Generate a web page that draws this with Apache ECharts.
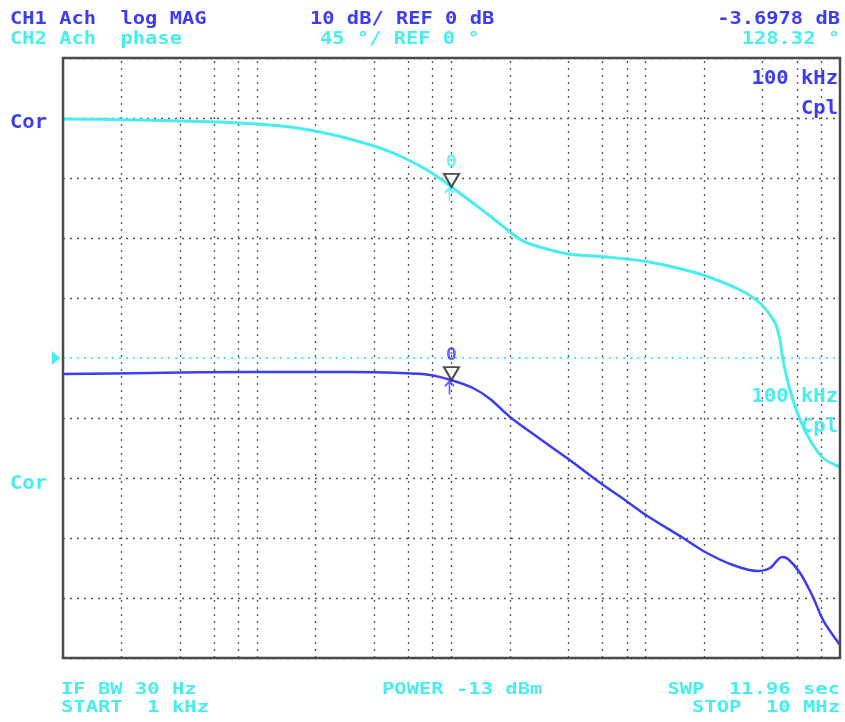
<!DOCTYPE html>
<html>
<head>
<meta charset="utf-8">
<title>Ach log MAG / phase</title>
<script src="https://cdn.jsdelivr.net/npm/echarts@6/dist/echarts.min.js"></script>
<style>
    html, body { margin: 0; padding: 0; background: #fff; }
    #main { width: 845px; height: 722px; }
</style>
</head>
<body>
<div id="main"></div>
<script>
// 数据
// CH2 相位曲线：频率(Hz) / 相位(°)
const phase_freq = [1000, 1550, 2490, 4000, 6430, 10000, 14750, 21040, 30000, 42850, 54300, 68800, 82200, 100000, 129000, 158000, 200000, 225000, 263000, 398000, 632000, 968000, 1380000, 1970000, 3060000, 3870000, 4630000, 4910000, 5090000, 5530000, 6230000, 7010000, 8180000, 10000000];
const phase_deg = [179.25, 179, 178.5, 177.75, 177, 175.5, 173.25, 169.5, 164.25, 157.5, 151.5, 144, 137.25, 128.32, 116.25, 106.5, 94.5, 89, 84.75, 78, 75.75, 72.75, 68.25, 62.25, 51, 41.25, 26.25, 13.5, -1.5, -24, -46.5, -61.5, -75, -81.75];
// CH1 幅度曲线：频率(Hz) / 幅度(dB)
const mag_freq = [1000, 2800, 9180, 30000, 54300, 77500, 100000, 129000, 158000, 200000, 286000, 398000, 582000, 800000, 1015000, 1556000, 2020000, 2810000, 3740000, 4360000, 5030000, 5400000, 6230000, 7260000, 8180000, 10000000];
const mag_db = [-2.67, -2.5, -2.33, -2.33, -2.5, -2.83, -3.6978, -5.0, -6.83, -9.83, -13.5, -16.8, -20.8, -23.9, -26.3, -30, -32.33, -34.5, -35.5, -35, -33.17, -33.5, -35.83, -39.83, -43.67, -47.83];
// 竖向网格所在频率（每十倍频程 2,4,6,8,10）
const grid_freq = [2e3, 4e3, 6e3, 8e3, 1e4, 2e4, 4e4, 6e4, 8e4, 1e5, 2e5, 4e5, 6e5, 8e5, 1e6, 2e6, 4e6, 6e6, 8e6];
// 标记 0
const marker_freq = 100000;
const marker_db = -3.6978;
const marker_deg = 128.32;

(function () {
    const my_echart = echarts.init(document.getElementById("main")); //实例化echarts对象
    const BLUE = "#3c3cf2";
    const CYAN = "#48eeee";
    const GRID_COLOR = "#555";
    const MONO = '"DejaVu Sans Mono", monospace';
    const plot = { left: 63, top: 58, width: 777, height: 600 }; //测量区域

    // 文字（屏幕字体较宽，用scaleX拉伸）
    function txt(text, x, y, color, align, size, sx) {
        return {
            type: "text",
            x: x,
            y: y,
            scaleX: sx,
            silent: true,
            z: 50,
            style: {
                text: text,
                fill: color,
                font: "bold " + size + "px " + MONO,
                textAlign: align,
                textVerticalAlign: "middle",
                align: align,
                verticalAlign: "middle"
            }
        };
    }

    const y_center = plot.top + plot.height / 2; //参考线位置
    const graphic = [
        txt("CH1 Ach  log MAG", 10, 20, BLUE, "left", 17, 1.2),
        txt("10 dB/ REF 0 dB", 310, 20, BLUE, "left", 17, 1.2),
        txt("-3.6978 dB", 840, 20, BLUE, "right", 17, 1.2),
        txt("CH2 Ach  phase", 10, 40, CYAN, "left", 17, 1.2),
        txt("45 °/ REF 0 °", 320, 40, CYAN, "left", 17, 1.2),
        txt("128.32 °", 840, 40, CYAN, "right", 17, 1.2),
        txt("IF BW 30 Hz", 61, 690, CYAN, "left", 16, 1.28),
        txt("START  1 kHz", 61, 708, CYAN, "left", 16, 1.28),
        txt("POWER -13 dBm", 382, 690, CYAN, "left", 16, 1.28),
        txt("SWP  11.96 sec", 840, 690, CYAN, "right", 16, 1.28),
        txt("STOP  10 MHz", 840, 708, CYAN, "right", 16, 1.28),
        txt("Cor", 10, 123, BLUE, "left", 19, 1.08),
        txt("Cor", 10, 484, CYAN, "left", 19, 1.08),
        txt("100 kHz", 838, 79, BLUE, "right", 19, 1.08),
        txt("Cpl", 838, 109, BLUE, "right", 19, 1.08),
        txt("100 kHz", 838, 397.5, CYAN, "right", 19, 1.08),
        txt("Cpl", 838, 427.5, CYAN, "right", 19, 1.08),
        { //左侧参考位置三角
            type: "polygon",
            silent: true,
            shape: { points: [[52, y_center - 7], [60, y_center], [52, y_center + 7]] },
            style: { fill: CYAN }
        }
    ];

    // 中间那条灰色网格线被青色参考线代替
    const split_colors = [];
    for (let i = 0; i <= 10; i++) split_colors.push(i === 5 ? "rgba(0,0,0,0)" : GRID_COLOR);

    const tri_path = "path://M0,0 L20,0 L10,17 Z";
    const arrow_path = "path://M5,0 L5,14 M1,5 L5,0 L9,5";

    function marker(x, y, color, axis) {
        return [
            {
                type: "scatter",
                yAxisIndex: axis,
                z: 10,
                symbol: tri_path,
                symbolSize: [15, 13],
                symbolOffset: [0, "-50%"],
                itemStyle: { color: "#fff", borderColor: "#222", borderWidth: 2 },
                label: {
                    show: true,
                    position: "top",
                    distance: 2,
                    formatter: "0",
                    color: color,
                    fontSize: 18,
                    fontWeight: "bold",
                    fontFamily: MONO
                },
                data: [[x, y]]
            },
            {
                type: "scatter",
                yAxisIndex: axis,
                z: 10,
                symbol: arrow_path,
                symbolSize: [9, 13],
                symbolOffset: [-2, "60%"],
                itemStyle: { color: "none", borderColor: color, borderWidth: 2 },
                data: [[x, y]]
            }
        ];
    }

    let option = {
        animation: false,
        backgroundColor: "#fff",
        graphic: graphic,
        grid: {
            left: plot.left,
            top: plot.top,
            width: plot.width,
            height: plot.height,
            show: true,
            borderColor: "#4a4a4a",
            borderWidth: 2.5,
            z: 20
        },
        xAxis: {
            type: "log",
            logBase: 10,
            min: 1000,
            max: 10000000,
            axisLine: { show: false },
            axisTick: { show: false },
            axisLabel: { show: false },
            splitLine: { show: false }
        },
        yAxis: [
            { // CH1 幅度 10 dB/格
                type: "value",
                min: -50,
                max: 50,
                interval: 10,
                axisLine: { show: false },
                axisTick: { show: false },
                axisLabel: { show: false },
                splitLine: {
                    lineStyle: { color: split_colors, type: [2, 5], width: 1.3 }
                }
            },
            { // CH2 相位 45 °/格
                type: "value",
                min: -225,
                max: 225,
                interval: 45,
                axisLine: { show: false },
                axisTick: { show: false },
                axisLabel: { show: false },
                splitLine: { show: false }
            }
        ],
        series: [
            { //竖向网格线
                type: "line",
                data: [],
                z: 1,
                silent: true,
                markLine: {
                    silent: true,
                    symbol: "none",
                    label: { show: false },
                    lineStyle: { color: GRID_COLOR, type: [2, 5], width: 1.3 },
                    data: grid_freq.map(function (f) { return { xAxis: f }; })
                }
            },
            { //参考线
                type: "line",
                data: [],
                z: 2,
                silent: true,
                markLine: {
                    silent: true,
                    symbol: "none",
                    label: { show: false },
                    lineStyle: { color: CYAN, type: [2, 5], width: 1.8 },
                    data: [{ yAxis: 0 }]
                }
            },
            {
                name: "phase",
                type: "line",
                yAxisIndex: 1,
                z: 5,
                smooth: 0.3,
                showSymbol: false,
                lineStyle: { color: CYAN, width: 3 },
                data: phase_freq.map(function (f, i) { return [f, phase_deg[i]]; })
            },
            {
                name: "log MAG",
                type: "line",
                yAxisIndex: 0,
                z: 6,
                smooth: 0.3,
                showSymbol: false,
                lineStyle: { color: BLUE, width: 2.5 },
                data: mag_freq.map(function (f, i) { return [f, mag_db[i]]; })
            }
        ].concat(marker(marker_freq, marker_deg, CYAN, 1), marker(marker_freq, marker_db, BLUE, 0))
    }; //配置项
    my_echart.setOption(option); //指定配置项
})();
</script>
</body>
</html>
